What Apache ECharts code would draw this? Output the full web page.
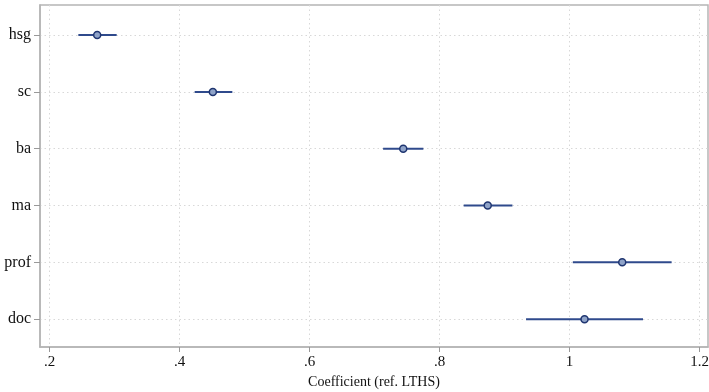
<!DOCTYPE html>
<html>
<head>
<meta charset="utf-8">
<script src="https://cdn.jsdelivr.net/npm/echarts@6/dist/echarts.min.js"></script>
<style>
  html, body { margin: 0; padding: 0; background: #fff; }
  #chart { width: 709px; height: 392px; }
</style>
</head>
<body>
<div id="chart"></div>
<script>
// education levels, top to bottom
const categories = ['hsg', 'sc', 'ba', 'ma', 'prof', 'doc']
// point estimates and 95% CI bounds
const estimates = [0.273, 0.451, 0.744, 0.874, 1.081, 1.023]
const ciLow = [0.244, 0.423, 0.713, 0.837, 1.005, 0.933]
const ciHigh = [0.303, 0.481, 0.775, 0.912, 1.157, 1.113]
const xTicks = [0.2, 0.4, 0.6, 0.8, 1.0, 1.2]
const yTicks = categories.map((c, i) => i)

const chart = echarts.init(document.getElementById('chart'))

const serif = 'Liberation Serif'
const lineColor = '#2f4a8c'

const option = {
  animation: false,
  grid: {
    left: 40,
    right: 1,
    top: 5,
    bottom: 45,
    outerBoundsMode: 'none',
    show: true,
    borderColor: '#b5b5b5',
    borderWidth: 1.5
  },
  xAxis: {
    type: 'value',
    min: 0.185,
    max: 1.213,
    name: 'Coefficient (ref. LTHS)',
    nameLocation: 'middle',
    nameGap: 28,
    nameTextStyle: { fontFamily: serif, fontSize: 14, color: '#111' },
    axisLine: { show: true, onZero: false, lineStyle: { color: '#b5b5b5', width: 1.5 } },
    axisTick: { show: true, length: 5, customValues: xTicks, lineStyle: { color: '#999' } },
    axisLabel: {
      customValues: xTicks,
      margin: 8,
      fontFamily: serif,
      fontSize: 15,
      color: '#111',
      formatter: v => {
        const s = String(Math.round(v * 10) / 10)
        return s.startsWith('0.') ? s.slice(1) : s
      }
    },
    splitLine: { show: true, lineStyle: { color: '#d8d8d8', type: [1.5, 3] } }
  },
  yAxis: {
    type: 'value',
    min: -0.53,
    max: 5.49,
    inverse: true,
    axisLine: { show: true, onZero: false, lineStyle: { color: '#b5b5b5', width: 1.5 } },
    axisTick: { show: true, length: 6, customValues: yTicks, lineStyle: { color: '#999' } },
    axisLabel: {
      customValues: yTicks,
      margin: 9,
      fontFamily: serif,
      fontSize: 16,
      color: '#111',
      formatter: v => categories[Math.round(v)] || ''
    },
    splitLine: { show: true, lineStyle: { color: '#d8d8d8', type: [1.5, 3] } }
  },
  series: [
    {
      type: 'custom',
      data: categories.map((c, i) => [ciLow[i], ciHigh[i], i]),
      encode: { x: [0, 1], y: 2 },
      renderItem: (params, api) => {
        const a = api.coord([api.value(0), api.value(2)])
        const b = api.coord([api.value(1), api.value(2)])
        return {
          type: 'line',
          shape: { x1: a[0], y1: a[1], x2: b[0], y2: b[1] },
          style: { stroke: lineColor, lineWidth: 2 }
        }
      },
      z: 2
    },
    {
      type: 'scatter',
      data: categories.map((c, i) => [estimates[i], i]),
      symbol: 'circle',
      symbolSize: 7,
      itemStyle: { color: '#8fa3c8', borderColor: '#1f3570', borderWidth: 1.5, opacity: 1 },
      z: 3
    }
  ]
}

chart.setOption(option)
</script>
</body>
</html>
